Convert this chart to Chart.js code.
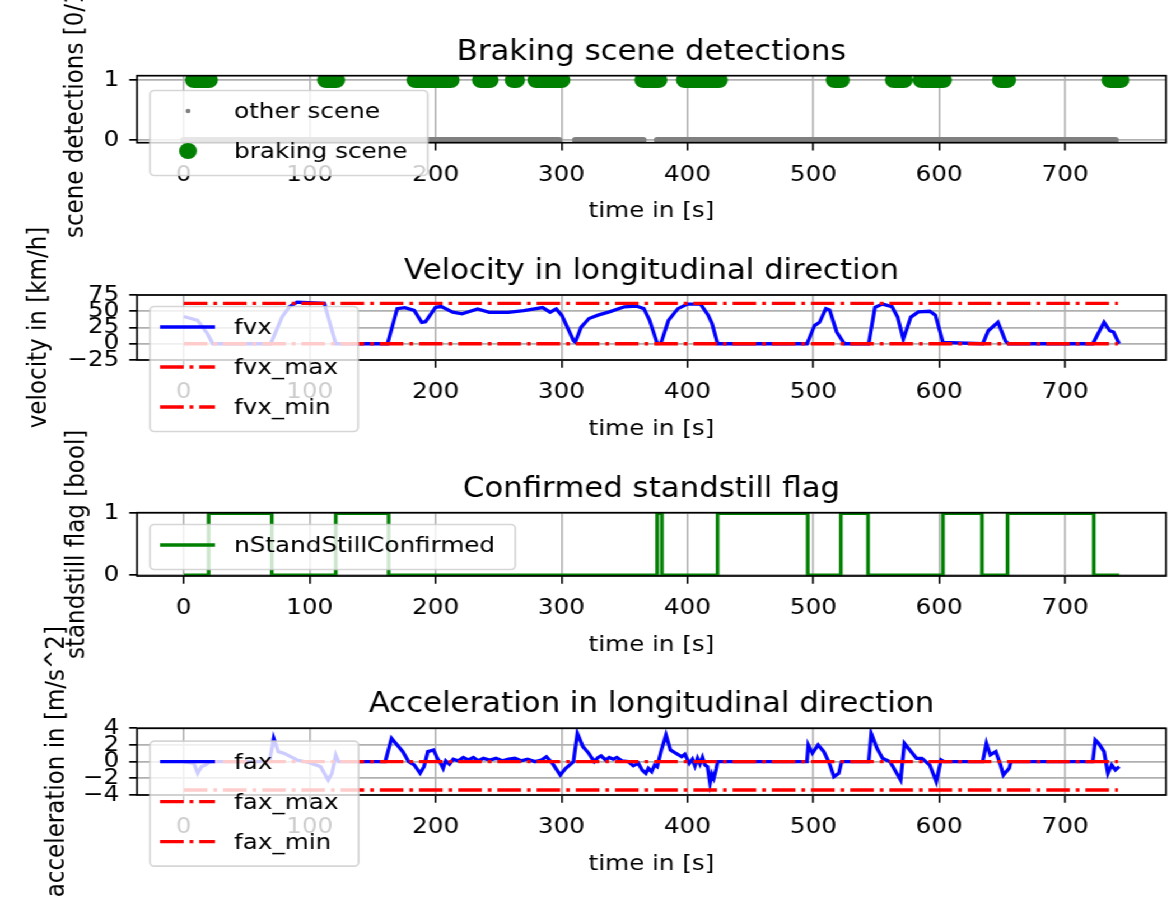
<!DOCTYPE html>
<html>
<head>
<meta charset="utf-8">
<script src="https://cdn.jsdelivr.net/npm/chart.js@4.4.1/dist/chart.umd.min.js"></script>
<style>
  html, body { margin: 0; padding: 0; background: #fff; overflow: hidden; }
  /* the figure is rendered a little narrower and stretched to full width */
  #figure { position: relative; width: 1047px; height: 901px; transform: scaleX(1.12); transform-origin: 0 0; }
  #figure canvas { position: absolute; left: 0; top: 0; width: 1047px; height: 901px; }
</style>
</head>
<body>
<div id="figure">
  <canvas id="detections" width="1047" height="901"></canvas>
  <canvas id="velocity" width="1047" height="901"></canvas>
  <canvas id="standstill" width="1047" height="901"></canvas>
  <canvas id="acceleration" width="1047" height="901"></canvas>
</div>
<script>
// ---- data ----
const timeRange = [-37.2, 780.2];
const timeTicks = [0, 100, 200, 300, 400, 500, 600, 700];
const flagTicks = [0, 1];
const velocityTicks = [-25, 0, 25, 50, 75];
const accelTicks = [-4, -2, 0, 2, 4];

// braking scene detections (value 1), [first, last] time of each run in s
const brakingScenes = [[8, 20], [113, 121], [184, 212], [236, 243], [262, 264], [280, 300],
  [365, 377], [398, 425], [517, 522], [564, 572], [586, 603], [649, 654], [736, 744]];
// other scene samples (value 0)
const otherScenes = [[0, 298], [311, 365], [376, 740]];

const fvxTime = [0, 11, 18.7, 23, 69, 78, 84, 90, 111.6, 120.7, 161.8, 169.5, 175.6, 183, 189, 192,
  200, 204.5, 213.6, 221, 233.4, 242.6, 257.7, 270, 285, 291, 295.8, 300.4, 309.5, 311, 315.6,
  321.8, 329, 338, 350, 359.4, 365.4, 370, 376, 379, 385, 392.5, 400, 410.5, 416.5, 419.6, 424,
  495, 501, 505, 510, 513, 518.6, 524.8, 544, 549, 555, 562.5, 567, 571.5, 577.5, 583.5, 592.5,
  597, 603, 634.6, 639, 646.7, 652.7, 655, 722, 731, 735.5, 738.5, 743];
const fvx = [42, 36, 15.5, 0, 0, 41, 57, 64, 62, 0, 0, 54, 55.6, 51.4, 33, 34,
  56, 57.3, 48.5, 45.9, 53.6, 48.4, 48.4, 51, 55.6, 48.5, 53.6, 43.2, 5, 2.5, 25.5,
  38.8, 44, 49, 56.8, 58, 54, 36, 0.5, 1, 36, 54, 61, 61, 44, 31, 0,
  0, 28, 33, 54, 52, 18, 0, 0, 56, 61, 57, 41, 7, 41, 49, 50,
  44, 2, 0, 20, 33, 4, 0, 0, 33, 20, 18, 0];
const fvxMax = 62;
const fvxMin = 0;
const limitTime = [0, 742];

const standstillTime = [0, 19.7, 69.9, 120.7, 162.7, 376, 379.8, 424, 495.6, 521.9, 543.5, 603,
  634, 654.3, 722.8, 743];
const standstill = [0, 1, 0, 1, 0, 1, 0, 1, 0, 1, 0, 1, 0, 1, 0, 0];

const faxTime = [0, 8, 11, 14, 17, 21, 68, 71.4, 75, 79.6, 90, 99.4, 108.6, 114.7, 117.7, 120.7, 123,
  160, 165, 169.5, 174, 178.6, 183, 187.7, 190.8, 193.8, 198.4, 201.4, 204, 206, 208, 211, 214,
  218, 222, 226, 230, 234, 238, 243, 248, 253, 258, 263, 268, 273, 279, 284, 288, 292.8, 299,
  303.4, 309.5, 312.6, 317, 321.7, 326, 329, 331.5, 335, 338, 341, 344, 348, 353, 357, 361, 364,
  367, 369, 371.6, 374, 376, 379, 383, 386.5, 391, 395.5, 398, 401.5, 404, 406, 408, 410, 412,
  414, 416, 418, 419.5, 421, 423, 424, 495, 496,
  499.3, 503.8, 508.4, 512.8, 516.4, 520.3, 522.5, 544, 546, 550.6, 555, 561, 564, 569.4, 572.4,
  576.6, 582, 586.3, 592.5, 597.7, 601.5, 604, 634.6, 637.5, 640.6, 645, 648.3, 651, 655.6, 657,
  722, 724, 726.6, 731, 734, 737, 740, 743];
const fax = [0, -0.2, -1.4, -0.6, -0.4, 0, 0, 2.8, 1.2, 1, 0.2, -0.1, -0.6, -2.2, -1.4, 0.8, 0,
  0, 2.8, 2, 1.2, 0, -0.4, -1.4, -0.6, 1.2, 1.4, 0.4, -0.2, -0.8, 0.1, -0.3, 0.3,
  0.1, 0.5, 0.2, 0.5, 0.1, 0.4, 0.2, 0.4, 0.1, 0.3, 0.4, 0.1, 0.3, 0, 0.2, 0.6, -0.2, -1.6,
  -0.8, 0, 3.4, 1.8, 1, 0, 0.5, 0.7, 0.2, 0.5, 0.3, 0.5, 0.1, 0, -0.5, -0.2, -1,
  -1.4, -0.8, -1.2, -0.4, -0.6, 1.2, 3.2, 1.4, 1, 0.6, 0.9, -0.2, 0.3, -0.5, 0.4, -0.3, 0.5,
  -0.4, -0.6, -2.6, -1.5, -2, -0.8, 0, 0, 2,
  1, 2, 1.2, -0.2, -1.8, -1.4, 0, 0, 3.4, 1.6, 0.4, 0, -0.8, -2.2, 2.2,
  1.4, 0.4, 0.4, -0.4, -2.4, 0.2, 0, 0, 2.2, 0.8, 1.2, -0.2, -1.6, -0.8, 0,
  0, 2.6, 2.2, 1.2, -1.4, -0.4, -1, -0.6];
const faxMax = 0;
const faxMin = -3.4;

// ---- helpers ----
const FIG_W = 1047, FIG_H = 901;
const AX_LEFT = 122.3, AX_RIGHT = 1041.1;
const Y_AXIS_W = 60, X_AXIS_H = 82;
const DASH_DOT = [21.1, 5.3, 3.3, 5.3];
const FONT = '"DejaVu Sans", sans-serif';

Chart.defaults.font.family = FONT;
Chart.defaults.font.size = 22;
Chart.defaults.color = '#000';

const xy = (xs, ys) => xs.map((x, i) => ({x, y: ys[i]}));
const level = (xs, y) => xs.map(x => ({x, y}));
const runs = (list, y) => list.flatMap(([a, b]) => [{x: a, y}, {x: b, y}, {x: b, y: null}]);
const minus = v => String(v).replace('-', '\u2212');

function drawLegend(chart, y0) {
  const ctx = chart.ctx;
  const sets = chart.data.datasets;
  const textX = 209, boxL = 133.9;
  ctx.save();
  ctx.font = '22px ' + FONT;
  const w = Math.max(...sets.map(d => ctx.measureText(d.label).width));
  const top = y0 - 20.5, h = 45 + 40 * (sets.length - 1);
  ctx.beginPath();
  ctx.roundRect(boxL, top, textX + w + 18 - boxL, h, 4);
  ctx.fillStyle = 'rgba(255,255,255,0.8)';
  ctx.fill();
  ctx.strokeStyle = 'rgba(204,204,204,0.8)';
  ctx.lineWidth = 1.7;
  ctx.stroke();
  sets.forEach((d, i) => {
    const y = y0 + 40 * i;
    if (d.legendDot) {
      ctx.beginPath();
      ctx.arc(167.9, y, d.legendDot, 0, 2 * Math.PI);
      ctx.fillStyle = d.borderColor;
      ctx.fill();
    } else {
      ctx.beginPath();
      ctx.setLineDash(d.borderDash || []);
      ctx.moveTo(142.9, y);
      ctx.lineTo(192, y);
      ctx.strokeStyle = d.borderColor;
      ctx.lineWidth = d.borderWidth;
      ctx.stroke();
      ctx.setLineDash([]);
    }
    ctx.fillStyle = '#000';
    ctx.textAlign = 'left';
    ctx.textBaseline = 'middle';
    ctx.fillText(d.label, textX, y + 1.5);
  });
  ctx.restore();
}

function panelDecor(p) {
  return {
    id: 'panelDecor',
    afterDatasetsDraw(chart) {
      const {ctx, chartArea: a} = chart;
      ctx.save();
      ctx.strokeStyle = '#000';
      ctx.lineWidth = 1.7;
      ctx.strokeRect(a.left, a.top, a.width, a.height);
      ctx.restore();
    },
    afterDraw(chart) {
      const {ctx, chartArea: a} = chart;
      ctx.save();
      ctx.fillStyle = '#000';
      ctx.textAlign = 'center';
      ctx.textBaseline = 'alphabetic';
      ctx.font = '27.5px ' + FONT;
      ctx.fillText(p.title, (a.left + a.right) / 2, a.top - 16);
      ctx.translate(p.yLabelX, (a.top + a.bottom) / 2);
      ctx.rotate(-Math.PI / 2);
      ctx.font = '23px ' + FONT;
      ctx.textBaseline = 'middle';
      ctx.fillText(p.yLabel, 0, 0);
      ctx.restore();
      drawLegend(chart, p.legendY);
    }
  };
}

function makePanel(id, p) {
  return new Chart(document.getElementById(id), {
    type: 'line',
    data: { datasets: p.datasets },
    options: {
      responsive: false,
      animation: false,
      devicePixelRatio: 1,
      events: [],
      layout: { padding: { left: AX_LEFT - Y_AXIS_W, right: FIG_W - AX_RIGHT, top: p.top, bottom: FIG_H - p.bottom - X_AXIS_H } },
      plugins: { legend: { display: false }, tooltip: { enabled: false } },
      elements: { point: { radius: 0 }, line: { tension: 0 } },
      scales: {
        x: {
          type: 'linear', min: timeRange[0], max: timeRange[1], bounds: 'data',
          afterBuildTicks: s => { s.ticks = timeTicks.map(value => ({value})); },
          afterFit: s => { s.height = X_AXIS_H; },
          grid: { color: '#b0b0b0', lineWidth: 1.6, tickColor: '#000', tickWidth: 1.6, tickLength: 7.7 },
          border: { display: false },
          ticks: { padding: 11.5, maxRotation: 0, autoSkip: false, callback: minus },
          title: { display: true, text: 'time in [s]', padding: 0 }
        },
        y: {
          type: 'linear', min: p.yMin, max: p.yMax, bounds: 'data',
          afterBuildTicks: s => { s.ticks = p.yTicks.map(value => ({value})); },
          afterFit: s => { s.width = Y_AXIS_W; },
          grid: { color: '#b0b0b0', lineWidth: 1.7, tickColor: '#000', tickWidth: 1.7, tickLength: 6.9 },
          border: { display: false },
          ticks: { padding: 9, autoSkip: false, callback: minus }
        }
      }
    },
    plugins: [panelDecor(p)]
  });
}

// ---- panels ----
makePanel('detections', {
  title: 'Braking scene detections', yLabel: 'scene detections [0/1]', yLabelX: 68,
  top: 75.7, bottom: 142.7, yMin: -0.045, yMax: 1.072, yTicks: flagTicks, legendY: 111,
  datasets: [
    { label: 'other scene', data: runs(otherScenes, 0), borderColor: '#808080', borderWidth: 6,
      borderCapStyle: 'round', legendDot: 2.2, clip: 0 },
    { label: 'braking scene', data: runs(brakingScenes, 1), borderColor: '#008000', borderWidth: 16,
      borderCapStyle: 'round', legendDot: 8, clip: 0 }
  ]
});

makePanel('velocity', {
  title: 'Velocity in longitudinal direction', yLabel: 'velocity in [km/h]', yLabelX: 35,
  top: 295, bottom: 360, yMin: -25, yMax: 75, yTicks: velocityTicks, legendY: 327,
  datasets: [
    { label: 'fvx', data: xy(fvxTime, fvx), borderColor: '#0000ff', borderWidth: 3.3, order: 1 },
    { label: 'fvx_max', data: level(limitTime, fvxMax), borderColor: '#ff0000', borderWidth: 3.3, borderDash: DASH_DOT, order: 0 },
    { label: 'fvx_min', data: level(limitTime, fvxMin), borderColor: '#ff0000', borderWidth: 3.3, borderDash: DASH_DOT, order: 0 }
  ]
});

makePanel('standstill', {
  title: 'Confirmed standstill flag', yLabel: 'standstill flag [bool]', yLabelX: 69,
  top: 512.7, bottom: 576, yMin: -0.015, yMax: 1.01, yTicks: flagTicks, legendY: 545,
  datasets: [
    { label: 'nStandStillConfirmed', data: xy(standstillTime, standstill), borderColor: '#008000',
      borderWidth: 3.3, stepped: 'before' }
  ]
});

makePanel('acceleration', {
  title: 'Acceleration in longitudinal direction', yLabel: 'acceleration in [m/s^2]', yLabelX: 51,
  top: 728.3, bottom: 795, yMin: -4, yMax: 4, yTicks: accelTicks, legendY: 761.7,
  datasets: [
    { label: 'fax', data: xy(faxTime, fax), borderColor: '#0000ff', borderWidth: 3.3, order: 1 },
    { label: 'fax_max', data: level(limitTime, faxMax), borderColor: '#ff0000', borderWidth: 3.3, borderDash: DASH_DOT, order: 0 },
    { label: 'fax_min', data: level(limitTime, faxMin), borderColor: '#ff0000', borderWidth: 3.3, borderDash: DASH_DOT, order: 0 }
  ]
});
</script>
</body>
</html>
